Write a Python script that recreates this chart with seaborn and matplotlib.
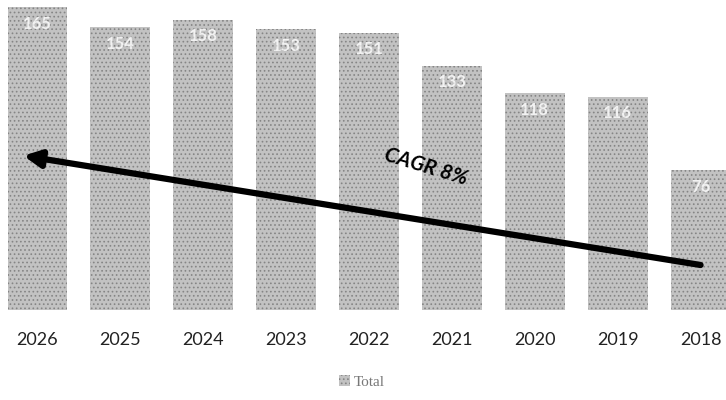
import matplotlib
matplotlib.use("Agg")
import matplotlib.pyplot as plt
import seaborn as sns
import pandas as pd
from matplotlib.patches import Patch

years = ["2026", "2025", "2024", "2023", "2022", "2021", "2020", "2019", "2018"]
totals = [165, 154, 158, 153, 151, 133, 118, 116, 76]
series_name = "Total"
cagr_label = "CAGR 8%"

df = pd.DataFrame({"year": years, "value": totals})

sns.set_style("white")
plt.rcParams["font.family"] = ["Lato", "DejaVu Sans"]
plt.rcParams["hatch.linewidth"] = 0.7

fig = plt.figure(figsize=(7.26, 4.0), dpi=100)
ax = fig.add_axes([-4 / 726, 90 / 400, 746 / 726, 310 / 400])

bar_color = "#c2c2c2"
sns.barplot(data=df, x="year", y="value", order=years, color=bar_color,
            width=0.72, saturation=1, ax=ax)
for patch in ax.patches:
    patch.set_hatch("....")
    patch.set_edgecolor("#858585")
    patch.set_linewidth(0)

ax.set_ylim(0, 168.8)
ax.set_xlim(-0.5, 8.5)
ax.set_xlabel("")
ax.set_ylabel("")
ax.set_yticks([])
for s in ax.spines.values():
    s.set_visible(False)
ax.tick_params(axis="x", length=0, pad=16, labelsize=13, labelcolor="#222222")

# value labels inside the top of each bar
for i, v in enumerate(totals):
    ax.text(i, v - 9, f"{v}", ha="center", va="center", color="white",
            fontsize=12, fontweight="bold", alpha=0.8)

# growth arrow running from the 2018 bar back to 2026
ax.annotate("", xy=(-0.17, 84), xytext=(8.0, 24.5),
            arrowprops=dict(arrowstyle="-|>,head_length=1.0,head_width=0.5",
                            color="black", lw=4.5, shrinkA=0, shrinkB=0))
ax.text(4.69, 78, cagr_label, rotation=-17, ha="center", va="center",
        fontsize=15, fontweight="bold", fontstyle="italic", color="black",
        rotation_mode="anchor")

handles = [Patch(facecolor=bar_color, edgecolor="#858585", hatch="....", linewidth=0)]
fig.legend(handles, [series_name], loc="center", bbox_to_anchor=(362 / 726, 1 - 382 / 400),
           frameon=False, handlelength=0.7, handleheight=0.7, handletextpad=0.3,
           prop={"family": "Liberation Serif", "size": 11}, labelcolor="#777777")

fig.savefig("out.png", dpi=100)
